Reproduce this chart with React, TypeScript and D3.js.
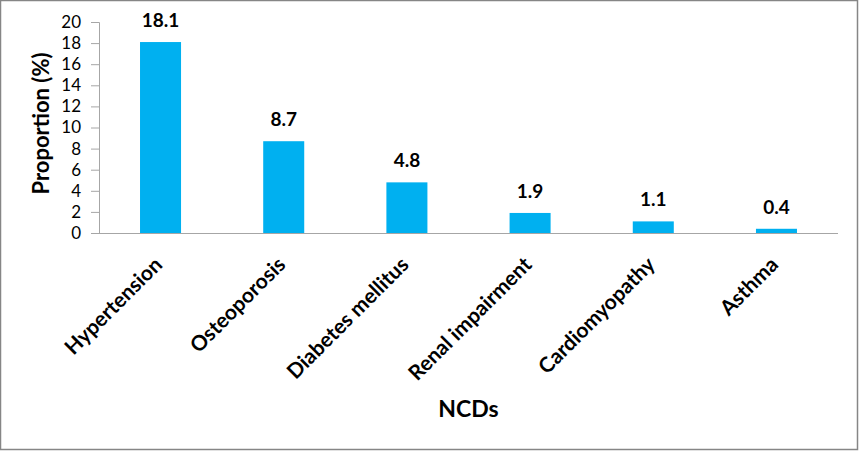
import { useEffect, useRef } from "react";
import * as d3 from "d3";

const categories = [
	"Hypertension",
	"Osteoporosis",
	"Diabetes mellitus",
	"Renal impairment",
	"Cardiomyopathy",
	"Asthma",
];
const proportions = [18.1, 8.7, 4.8, 1.9, 1.1, 0.4];
const yTicks = [0, 2, 4, 6, 8, 10, 12, 14, 16, 18, 20];

const width = 860;
const height = 451;
const font = "Lato, 'Open Sans', sans-serif";

export default function App() {
	const svgRef = useRef<SVGSVGElement>(null);

	useEffect(() => {
		if (!svgRef.current) return;
		document.body.style.margin = "0";

		const svg = d3.select(svgRef.current);
		svg.selectAll("*").remove();

		const margin = { top: 22, right: 22, bottom: 218, left: 99 };
		const innerWidth = width - margin.left - margin.right;
		const innerHeight = height - margin.top - margin.bottom;

		svg.append("rect")
			.attr("x", 0.5)
			.attr("y", 0.5)
			.attr("width", width - 3)
			.attr("height", height - 2)
			.attr("fill", "#fff")
			.attr("stroke", "#868686")
			.attr("stroke-width", 1.5);

		const g = svg
			.append("g")
			.attr("transform", `translate(${margin.left},${margin.top})`);

		const x = d3
			.scaleBand<string>()
			.domain(categories)
			.range([0, innerWidth])
			.paddingInner(0.667)
			.paddingOuter(0.333);

		const y = d3.scaleLinear().domain([0, 20]).range([innerHeight, 0]);

		// y axis
		const yAxis = g
			.append("g")
			.call(d3.axisLeft(y).tickValues(yTicks).tickSize(8).tickPadding(10));
		yAxis.select(".domain").attr("stroke", "#a6a6a6");
		yAxis.selectAll(".tick line").attr("stroke", "#a6a6a6");
		yAxis.selectAll(".tick text")
			.attr("fill", "#000")
			.attr("font-family", font)
			.attr("font-size", 17);

		// bars
		g.selectAll(".bar")
			.data(proportions)
			.join("rect")
			.attr("class", "bar")
			.attr("x", (_, i) => x(categories[i]) ?? 0)
			.attr("y", (d) => y(d))
			.attr("width", x.bandwidth())
			.attr("height", (d) => innerHeight - y(d))
			.attr("fill", "#00b0f0");

		// x axis line
		g.append("line")
			.attr("x1", 0)
			.attr("x2", innerWidth)
			.attr("y1", innerHeight + 0.5)
			.attr("y2", innerHeight + 0.5)
			.attr("stroke", "#a6a6a6");

		// value labels
		g.selectAll(".value")
			.data(proportions)
			.join("text")
			.attr("class", "value")
			.attr("x", (_, i) => (x(categories[i]) ?? 0) + x.bandwidth() / 2)
			.attr("y", (d) => y(d) - 15)
			.attr("text-anchor", "middle")
			.attr("font-family", font)
			.attr("font-weight", "bold")
			.attr("font-size", 19)
			.text((d) => d.toFixed(1));

		// category labels
		g.selectAll(".cat")
			.data(categories)
			.join("text")
			.attr("class", "cat")
			.attr(
				"transform",
				(d) =>
					`translate(${(x(d) ?? 0) + x.bandwidth() / 2 + 3},${innerHeight + 33}) rotate(-45)`,
			)
			.attr("text-anchor", "end")
			.attr("font-family", font)
			.attr("font-weight", "bold")
			.attr("font-size", 21)
			.text((d) => d);

		// axis titles
		g.append("text")
			.attr("transform", `translate(${-50},${innerHeight / 2 - 4}) rotate(-90)`)
			.attr("text-anchor", "middle")
			.attr("font-family", font)
			.attr("font-weight", "bold")
			.attr("font-size", 22)
			.text("Proportion (%)");

		g.append("text")
			.attr("x", innerWidth / 2)
			.attr("y", 417 - margin.top)
			.attr("text-anchor", "middle")
			.attr("font-family", font)
			.attr("font-weight", "bold")
			.attr("font-size", 23)
			.text("NCDs");
	}, []);

	return (
		<svg
			ref={svgRef}
			width={width}
			height={height}
			style={{ display: "block" }}
		/>
	);
}
